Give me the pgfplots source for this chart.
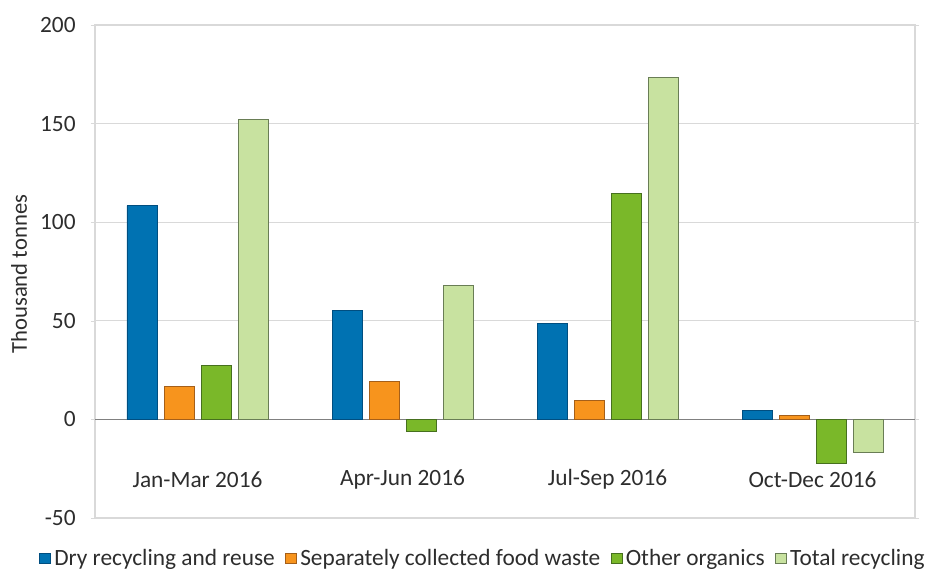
\documentclass[border=0pt]{standalone}
\usepackage{fontspec}
\setmainfont{Carlito}
\usepackage{pgfplots}
\pgfplotsset{compat=1.18}

\definecolor{dryfill}{RGB}{0,114,178}
\definecolor{drydraw}{RGB}{0,78,128}
\definecolor{foodfill}{RGB}{247,148,29}
\definecolor{fooddraw}{RGB}{165,95,25}
\definecolor{orgfill}{RGB}{122,184,41}
\definecolor{orgdraw}{RGB}{70,112,30}
\definecolor{totfill}{RGB}{200,226,160}
\definecolor{totdraw}{RGB}{105,125,85}
\definecolor{gridgray}{RGB}{217,217,217}
\definecolor{zerogray}{RGB}{128,128,128}
\definecolor{txt}{RGB}{45,45,45}

\begin{document}
\begin{tikzpicture}[x=1pt,y=1pt]
\begin{axis}[
  name=main,
  scale only axis,
  width=615pt, height=369.75pt,
  font=\fontsize{17.5pt}{20pt}\selectfont,
  /pgf/number format/assume math mode=true,
  ymin=-50, ymax=200, ytick={-50,0,50,100,150,200},
  xmin=-0.5, xmax=3.5,
  xtick={0,1,2,3},
  xticklabels={Jan-Mar 2016,Apr-Jun 2016,Jul-Sep 2016,Oct-Dec 2016},
  x tick style={draw=none},
  y tick style={gridgray},
  tick align=outside,
  major tick length=3pt,
  xticklabel style={anchor=center, yshift=32pt, text=txt},
  yticklabel style={text=txt, xshift=-8pt},
  ymajorgrids, grid style={gridgray, line width=0.8pt},
  axis line style={gridgray, line width=0.8pt},
  extra y ticks={0},
  extra y tick labels={},
  extra y tick style={grid style={zerogray, line width=0.9pt}, major tick length=0pt},
  ylabel={Thousand tonnes},
  ylabel style={text=txt, font=\fontsize{17pt}{20pt}\selectfont},
  every axis y label/.append style={at={(ticklabel cs:0.5)}, xshift=-2pt},
  ybar=5.25pt, bar width=22.5pt,
  legend columns=-1,
  legend style={draw=none, fill=none, at={(0.474,-0.082)}, anchor=center,
    font=\fontsize{17.5pt}{20pt}\selectfont, text=txt, inner sep=0pt,
    /tikz/every even column/.append style={column sep=5.5pt},
    nodes={inner xsep=2.5pt}},
  legend image code/.code={\draw[#1, line width=0.6pt] (0pt,-4pt) rectangle (8pt,4pt);},
]
\addplot[fill=dryfill, draw=drydraw, line width=0.6pt] coordinates {(0,108.4) (1,55.2) (2,48.7) (3,4.7)};
\addplot[fill=foodfill, draw=fooddraw, line width=0.6pt] coordinates {(0,16.7) (1,19.1) (2,9.8) (3,1.8)};
\addplot[fill=orgfill, draw=orgdraw, line width=0.6pt] coordinates {(0,27.5) (1,-6.0) (2,114.8) (3,-22.5)};
\addplot[fill=totfill, draw=totdraw, line width=0.6pt] coordinates {(0,152.2) (1,67.8) (2,173.3) (3,-16.7)};
\legend{Dry recycling and reuse,Separately collected food waste,Other organics,Total recycling}
\end{axis}
\pgfresetboundingbox
\useasboundingbox ([xshift=-71.25pt, yshift=-40.5pt]main.south west) rectangle ([xshift=8.25pt, yshift=18.75pt]main.north east);
\end{tikzpicture}
\end{document}
